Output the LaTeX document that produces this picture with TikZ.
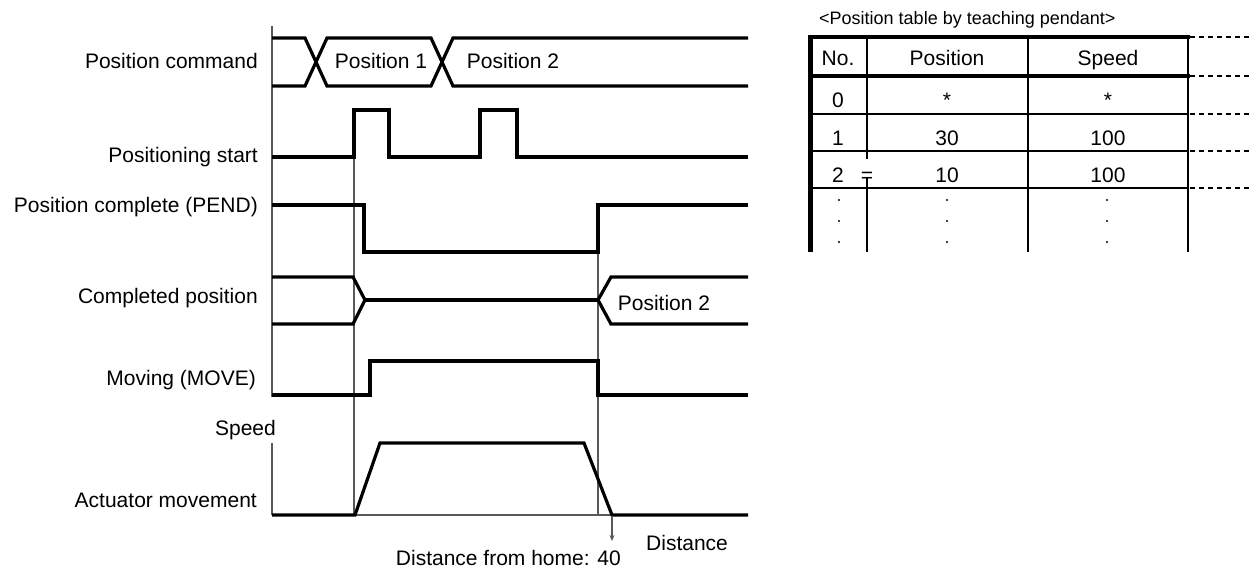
\documentclass[tikz,border=0pt]{standalone}
\usepackage{fontspec}
\setmainfont{Liberation Sans}
\usetikzlibrary{arrows.meta}
\begin{document}
\begin{tikzpicture}[x=1pt,y=-1pt,
  sig/.style={line width=3.2pt, line join=miter, line cap=butt},
  guide/.style={line width=1.1pt, draw=black!65},
  lbl/.style={anchor=base east, inner sep=0pt, font=\fontsize{21}{25}\selectfont},
  txt/.style={anchor=base, inner sep=0pt, font=\fontsize{21}{25}\selectfont},
  tthick/.style={line width=4pt},
  tthin/.style={line width=2pt},
  tdash/.style={line width=2pt, dash pattern=on 5pt off 4pt},
  tdot/.style={fill=black}
]
\useasboundingbox[fill=white] (0,0) rectangle (1249,571);

% ---- labels ----
\node[lbl] (l1) at (258,68) {Position command};
\node[lbl] (l2) at (258,162) {Positioning start};
\node[lbl] (l3) at (258,212) {Position complete (PEND)};
\node[lbl] (l4) at (258,303) {Completed position};
\node[lbl] (l5) at (256,385) {Moving (MOVE)};
\node[lbl] (l6) at (276,435) {Speed};
\node[lbl] (l7) at (257,507) {Actuator movement};
\node[txt, anchor=base west] (dist) at (646,550) {Distance};
\node[txt, anchor=base east] (home) at (621,565) {Distance from home: 40};

% ---- guides ----
\draw[guide] (272,26) -- (272,397);
\draw[guide] (272,443) -- (272,515);
\draw[guide] (354,157) -- (354,515);
\draw[guide] (598,252) -- (598,515);
\draw[guide] (355,515) -- (612,515);
\coordinate (arrS) at (612,517);
\coordinate (arrE) at (612,541);
\draw[guide, -{Stealth[length=6pt,width=5pt]}] (arrS) -- (arrE);

% ---- signals ----
\draw[sig] (272,38) -- (305,38) -- (327,86) -- (431,86) -- (453,38) -- (748,38);
\draw[sig] (272,86) -- (305,86) -- (327,38) -- (431,38) -- (453,86) -- (748,86);
\node[txt] (p1) at (381,68) {Position 1};
\node[txt] (p2) at (513,68) {Position 2};

\draw[sig] (272,157) -- (354,157) -- (354,110) -- (389,110) -- (389,157) -- (480,157) -- (480,110) -- (517,110) -- (517,157) -- (748,157);

\draw[sig] (272,205) -- (364,205) -- (364,252) -- (598,252) -- (598,205) -- (748,205);

\draw[sig] (272,277) -- (353,277) -- (365,300) -- (353,324) -- (272,324);
\draw[sig] (365,300) -- (598,300);
\draw[sig] (748,277) -- (611,277) -- (598,300) -- (611,324) -- (748,324);
\node[txt] (p2b) at (664,310) {Position 2};

\draw[sig] (272,395) -- (370,395) -- (370,361) -- (598,361) -- (598,395) -- (748,395);

\draw[sig] (272,515) -- (355,515) -- (380,443) -- (584,443) -- (612,515) -- (748,515);

% ---- table ----
\node[anchor=base west, inner sep=0pt, font=\fontsize{18}{22}\selectfont] (title) at (819,24) {<Position table by teaching pendant>};

\draw[line width=5pt] (810,35) -- (810,252);
\draw[tthick] (808,37) -- (1190,37);
\draw[tthick] (808,76) -- (1190,76);
\draw[tthin] (810,114) -- (1188,114);
\draw[tthin] (810,151) -- (1188,151);
\draw[tthin] (810,188) -- (1188,188);
\draw[tthin] (1188,37) -- (1188,252);
\draw[tthin] (1028,37) -- (1028,252);
\draw[tthin] (867,37) -- (867,159);
\draw[tthin] (867,178) -- (867,252);
\draw[tdash] (1190,37) -- (1249,37);
\draw[tdash] (1190,76) -- (1249,76);
\draw[tdash] (1190,114) -- (1249,114);
\draw[tdash] (1190,151) -- (1249,151);
\draw[tdash] (1190,188) -- (1249,188);

\node[txt] (hno) at (838,65) {No.};
\node[txt] (hpos) at (947,65) {Position};
\node[txt] (hspd) at (1108,65) {Speed};
\node[txt] (r0a) at (838,107) {0};
\node[txt] (r0b) at (947,107) {*};
\node[txt] (r0c) at (1108,107) {*};
\node[txt] (r1a) at (838,145) {1};
\node[txt] (r1b) at (947,145) {30};
\node[txt] (r1c) at (1108,145) {100};
\node[txt] (r2a) at (838,182) {2};
\node[txt] (r2eq) at (867,182) {=};
\node[txt] (r2b) at (947,182) {10};
\node[txt] (r2c) at (1108,182) {100};
\foreach \yy in {200,221,242} {
  \fill[tdot] (839,\yy) circle (1.2);
  \fill[tdot] (947,\yy) circle (1.2);
  \fill[tdot] (1107,\yy) circle (1.2);
}
\end{tikzpicture}
\end{document}
